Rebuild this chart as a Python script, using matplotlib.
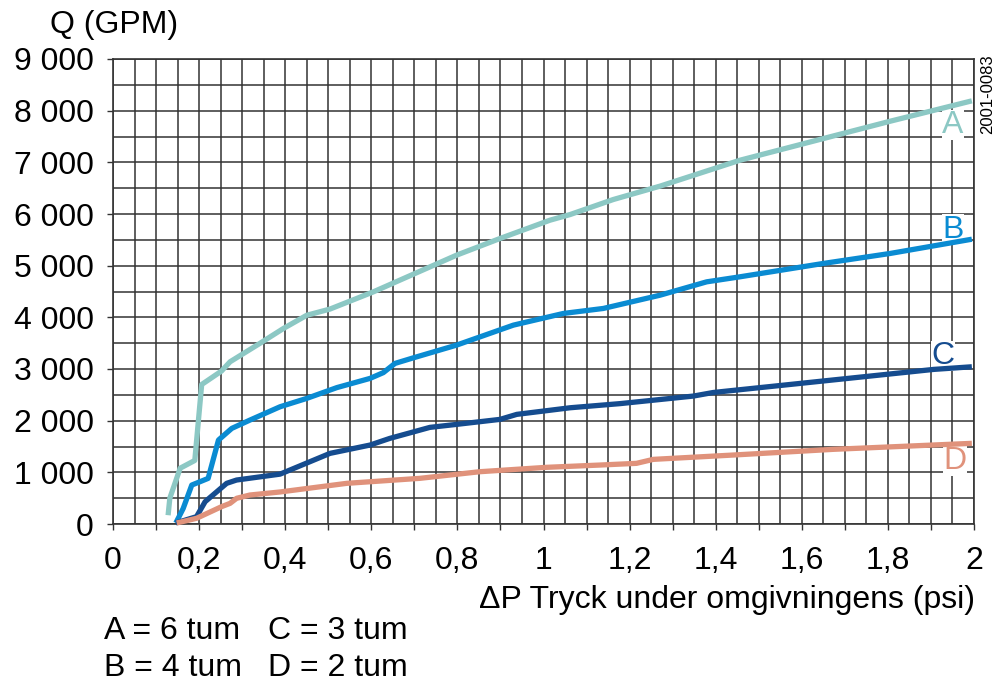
import numpy as np
import matplotlib
matplotlib.use("Agg")
import matplotlib.pyplot as plt

plt.rcParams['font.family'] = ['Liberation Sans', 'DejaVu Sans']

# kurvdata (dP i psi, Q i GPM)
a_dp = [0.128, 0.132, 0.156, 0.190, 0.206, 0.252, 0.272, 0.341, 0.396, 0.450, 0.504,
        0.605, 0.698, 0.798, 0.899, 1.015, 1.062, 1.162, 1.271, 1.456, 1.650, 1.805, 1.995]
a_q = [170, 500, 1080, 1230, 2700, 2960, 3140, 3495, 3785, 4040, 4160,
       4494, 4836, 5203, 5526, 5880, 5990, 6280, 6540, 7040, 7460, 7795, 8190]

b_dp = [0.146, 0.163, 0.183, 0.202, 0.221, 0.245, 0.276, 0.318, 0.388, 0.450, 0.520,
        0.597, 0.628, 0.655, 0.698, 0.798, 0.930, 1.046, 1.139, 1.271, 1.379, 1.456,
        1.650, 1.805, 1.995]
b_q = [20, 300, 754, 818, 883, 1625, 1851, 2011, 2269, 2431, 2640,
       2818, 2930, 3108, 3217, 3462, 3849, 4075, 4172, 4429, 4687, 4784,
       5043, 5236, 5512]

c_dp = [0.146, 0.194, 0.214, 0.264, 0.287, 0.388, 0.504, 0.597, 0.643, 0.736, 0.798,
        0.899, 0.938, 1.062, 1.178, 1.348, 1.394, 1.596, 1.906, 1.995]
c_q = [20, 142, 432, 787, 851, 965, 1367, 1528, 1657, 1870, 1928,
       2025, 2122, 2250, 2330, 2476, 2545, 2721, 2992, 3043]

d_dp = [0.148, 0.194, 0.252, 0.272, 0.287, 0.318, 0.388, 0.543, 0.713, 0.852, 1.007,
        1.131, 1.216, 1.255, 1.441, 1.673, 1.995]
d_q = [20, 110, 335, 400, 497, 561, 620, 787, 884, 1012, 1097,
       1141, 1174, 1251, 1335, 1445, 1561]

names = ['A', 'B', 'C', 'D']
colors = ['#8cc8c4', '#0a8bd2', '#154c8f', '#e0927b']
label_pos = [(1.951, 7720), (1.951, 5700), (1.928, 3250), (1.956, 1220)]

xticks = np.round(np.arange(0, 2.01, 0.1), 1)
yticks = np.arange(0, 9001, 1000)

W, H = 997, 684
fig = plt.figure(figsize=(W / 100, H / 100), dpi=100)
ax = fig.add_axes([113 / W, 1 - 524 / H, (974 - 113) / W, (524 - 59) / H])

grid_c = '#333333'
ax.set_xlim(0, 2)
ax.set_ylim(0, 9000)
ax.set_xticks(xticks)
ax.set_xticklabels([('%g' % t).replace('.', ',') if round(t * 10) % 2 == 0 else '' for t in xticks])
ax.set_xticks(np.arange(0, 2.001, 0.05), minor=True)
ax.set_yticks(yticks)
ax.set_yticklabels([f'{int(v):,}'.replace(',', ' ') for v in yticks])
ax.set_yticks(np.arange(0, 9001, 500), minor=True)
ax.grid(True, which='both', color=grid_c, lw=1.1)
ax.set_axisbelow(True)
ax.tick_params(which='major', length=4, width=1, color=grid_c, labelsize=23, pad=10)
ax.tick_params(axis='x', which='major', pad=12)
ax.tick_params(which='minor', length=0)
for s in ax.spines.values():
    s.set_color(grid_c)
    s.set_linewidth(1.2)

for dp, q, c in [(a_dp, a_q, colors[0]), (b_dp, b_q, colors[1]),
                 (c_dp, c_q, colors[2]), (d_dp, d_q, colors[3])]:
    ax.plot(dp, q, color=c, lw=3.8, solid_capstyle='butt', solid_joinstyle='round',
            clip_on=False, zorder=4)

# bokstäverna ligger under kurvorna men över rutnätet
for n, c, (lx, ly) in zip(names, colors, label_pos):
    ax.text(lx, ly, n, color=c, fontsize=23, ha='center', va='center', zorder=3,
            bbox=dict(facecolor='white', edgecolor='none', pad=0.3))

fig.text(114 / W, 1 - 25 / H, 'Q (GPM)', fontsize=23, ha='center', va='center')
fig.text(975 / W, 1 - 600 / H, 'ΔP Tryck under omgivningens (psi)', fontsize=23,
         ha='right', va='center')
fig.text(988 / W, 1 - 94 / H, '2001-0083', fontsize=12, rotation=90, ha='center', va='center')
fig.text(104 / W, 1 - 631 / H, 'A = 6 tum', fontsize=23, ha='left', va='center')
fig.text(268 / W, 1 - 631 / H, 'C = 3 tum', fontsize=23, ha='left', va='center')
fig.text(104 / W, 1 - 668 / H, 'B = 4 tum', fontsize=23, ha='left', va='center')
fig.text(268 / W, 1 - 668 / H, 'D = 2 tum', fontsize=23, ha='left', va='center')

fig.savefig('out.png', dpi=100)
